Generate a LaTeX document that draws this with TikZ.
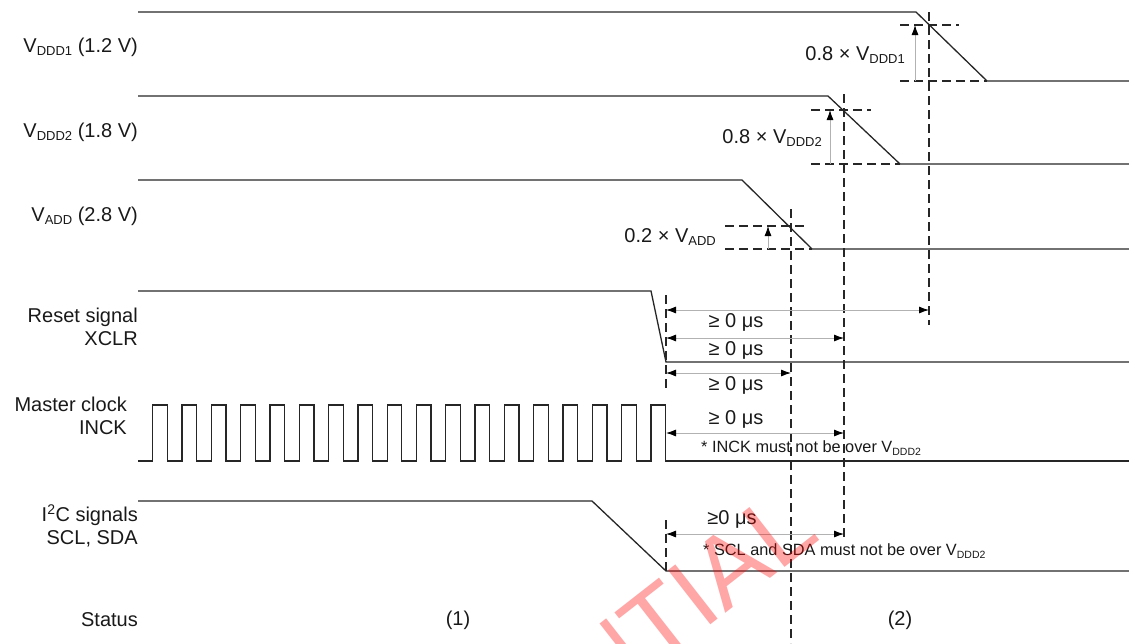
\documentclass[tikz,border=0pt]{standalone}
\usepackage{fontspec}
\setmainfont{Liberation Sans}
\usetikzlibrary{arrows.meta}
\newcommand{\ssub}[1]{\raisebox{-0.3ex}{\fontsize{13}{13}\selectfont #1}}
\newcommand{\nsub}[1]{\raisebox{-0.3ex}{\fontsize{10.5}{10.5}\selectfont #1}}
\tikzset{
  sig/.style={line width=1.3pt, black!85, line join=miter},
  dsh/.style={line width=1.2pt, black!85, dash pattern=on 9pt off 5pt},
  dimline/.style={line width=0.9pt, gray!60, {Latex[length=10pt,width=7pt,color=black]}-{Latex[length=10pt,width=7pt,color=black]}},
  upline/.style={line width=0.9pt, gray!60, -{Latex[length=10pt,width=7pt,color=black]}},
  lbl/.style={font=\fontsize{20}{23}\selectfont, inner sep=0pt, text=black!90},
  note/.style={font=\fontsize{16.3}{18}\selectfont, inner sep=0pt, text=black!90, anchor=west}
}
\begin{document}
\begin{tikzpicture}[x=1pt,y=-1pt]
\useasboundingbox (0,0) rectangle (1129,643);

% ---- signal traces ----
\draw[sig] (138,12) -- (916,12) -- (987,81) -- (1129,81);
\draw[sig] (138,96) -- (828,96) -- (900,164) -- (1129,164);
\draw[sig] (138,180) -- (742,180) -- (812,249) -- (1129,249);
\draw[sig] (138,291) -- (651,291) -- (666,362) -- (1129,362);
\draw[sig] (138,461) foreach \k in {0,...,17}{ -- ({152.8+29.3*\k},461) -- ++(0,-56) -- ++(14.6,0) -- ++(0,56) } -- (1129,461);
\draw[sig] (138,501) -- (592,501) -- (666,571) -- (1129,571);

% ---- coordinates ----
\coordinate (d1t) at (929,12);   \coordinate (d1b) at (929,325);
\coordinate (d2t) at (844,94);   \coordinate (d2b) at (844,540);
\coordinate (d3t) at (791,209);  \coordinate (d3b) at (791,643);
\coordinate (r0t) at (666,295);  \coordinate (r0b) at (666,390);
\coordinate (s0t) at (666,520);  \coordinate (s0b) at (666,571);

% ---- vertical dashed ----
\draw[dsh] (d1t) -- (d1b);
\draw[dsh] (d2t) -- (d2b);
\draw[dsh] (d3t) -- (d3b);
\draw[dsh] (r0t) -- (r0b);
\draw[dsh] (s0t) -- (s0b);

% ---- horizontal dashed (threshold marks) ----
\coordinate (h1a) at (900,25);  \coordinate (h1b) at (959,25);
\coordinate (h1c) at (900,81);  \coordinate (h1d) at (987,81);
\coordinate (h2a) at (811,110); \coordinate (h2b) at (871,110);
\coordinate (h2c) at (811,164); \coordinate (h2d) at (900,164);
\coordinate (h3a) at (725,226); \coordinate (h3b) at (808,226);
\coordinate (h3c) at (725,249); \coordinate (h3d) at (812,249);
\draw[dsh] (h1a) -- (h1b);
\draw[dsh] (h1c) -- (h1d);
\draw[dsh] (h2a) -- (h2b);
\draw[dsh] (h2c) -- (h2d);
\draw[dsh] (h3a) -- (h3b);
\draw[dsh] (h3c) -- (h3d);

% ---- threshold arrows ----
\coordinate (u1b) at (915,81);  \coordinate (u1t) at (915,25);
\coordinate (u2b) at (830,164); \coordinate (u2t) at (830,110);
\coordinate (u3b) at (768,249); \coordinate (u3t) at (768,226);
\draw[upline] (u1b) -- (u1t);
\draw[upline] (u2b) -- (u2t);
\draw[upline] (u3b) -- (u3t);

\node[lbl, anchor=east] (th1) at (905,55) {0.8 × V\ssub{DDD1}};
\node[lbl, anchor=east] (th2) at (822,138) {0.8 × V\ssub{DDD2}};
\node[lbl, anchor=east] (th3) at (716,237) {0.2 × V\ssub{ADD}};

% ---- timing dimensions ----
\coordinate (a1l) at (666,310); \coordinate (a1r) at (929,310);
\coordinate (a2l) at (666,338); \coordinate (a2r) at (844,338);
\coordinate (a3l) at (666,373); \coordinate (a3r) at (791,373);
\coordinate (a4l) at (666,433); \coordinate (a4r) at (844,433);
\coordinate (a5l) at (666,534); \coordinate (a5r) at (844,534);
\draw[dimline] (a1l) -- (a1r);
\draw[dimline] (a2l) -- (a2r);
\draw[dimline] (a3l) -- (a3r);
\draw[dimline] (a4l) -- (a4r);
\draw[dimline] (a5l) -- (a5r);

\node[lbl] (t1) at (736,322) {≥ 0 μs};
\node[lbl] (t2) at (736,350) {≥ 0 μs};
\node[lbl] (t3) at (736,385) {≥ 0 μs};
\node[lbl] (t4) at (736,419) {≥ 0 μs};
\node[lbl] (t5) at (732,519) {≥0 μs};

\node[note] (n1) at (701,448) {* INCK must not be over V\nsub{DDD2}};
\node[note] (n2) at (703,551) {* SCL and SDA must not be over V\nsub{DDD2}};

% ---- signal names ----
\node[lbl, anchor=east] (l1) at (138,47) {V\ssub{DDD1} (1.2 V)};
\node[lbl, anchor=east] (l2) at (138,132) {V\ssub{DDD2} (1.8 V)};
\node[lbl, anchor=east] (l3) at (138,216) {V\ssub{ADD} (2.8 V)};
\node[lbl, anchor=east, align=right] (l4) at (138,327) {Reset signal\\XCLR};
\node[lbl, anchor=east, align=right] (l5) at (127,416) {Master clock\\INCK};
\node[lbl, anchor=east, align=right] (l6) at (138,526) {I\textsuperscript{2}C signals\\SCL, SDA};
\node[lbl, anchor=east] (l7) at (138,620) {Status};
\node[lbl] (s1) at (458,620) {(1)};
\node[lbl] (s2) at (900,620) {(2)};

% ---- watermark ----
\begin{scope}
\clip (0,0) rectangle (1129,643);
\node[rotate=38, text=red, opacity=0.35, inner sep=0pt, anchor=base east, font=\fontsize{100}{100}\selectfont] (wm) at (822,538) {CONFIDENTIAL};
\end{scope}
\end{tikzpicture}
\end{document}
